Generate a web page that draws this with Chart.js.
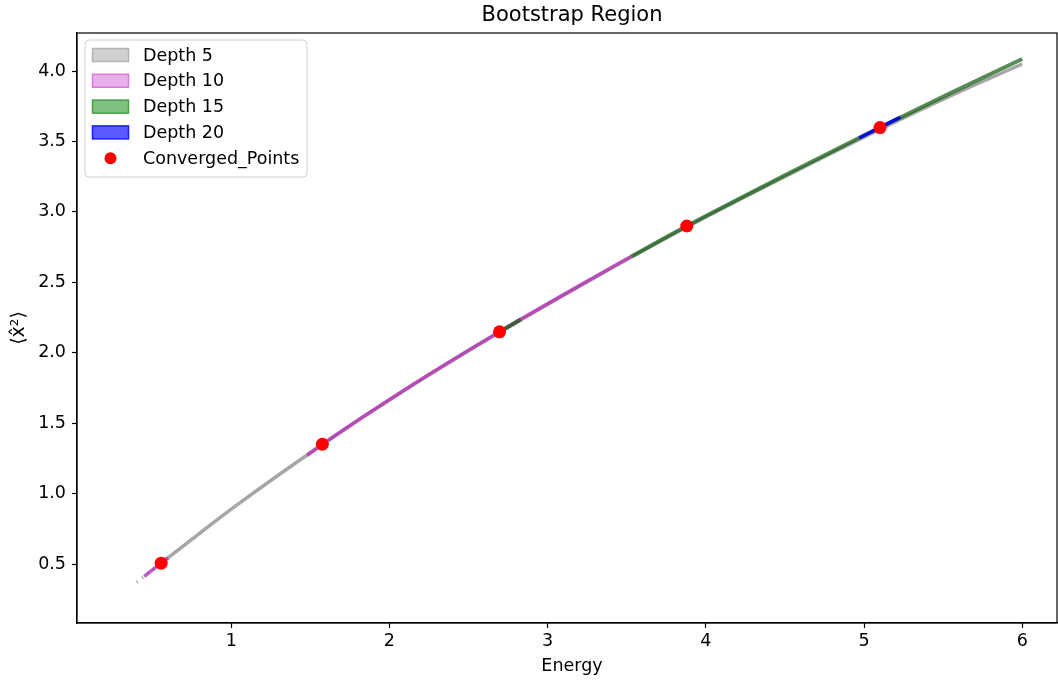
<!DOCTYPE html>
<html>
<head>
<meta charset="utf-8">
<script src="https://cdn.jsdelivr.net/npm/chart.js@4/dist/chart.umd.min.js"></script>
<style>
  html, body { margin: 0; padding: 0; background: #fff; overflow: hidden; }
  canvas { display: block; }
</style>
</head>
<body>
<canvas id="chart" width="1058" height="682"></canvas>
<script>
// values (energy, <x^2>); null breaks a segment
const depth5E = [0.40, 0.557, 0.80, 1.0, 1.576, 2.1, 2.696, 3.3, 3.88, 4.5, 5.10, 5.55, 6.0];
const depth5V = [0.370, 0.507, 0.718, 0.890, 1.349, 1.737, 2.146, 2.535, 2.893, 3.250, 3.585, 3.825, 4.050];

const depth10E = [0.45, 0.557, 0.60, null, 1.48, 1.576, 2.1, 2.696, 3.3, 3.53];
const depth10V = [0.413, 0.507, 0.545, null, 1.273, 1.351, 1.740, 2.149, 2.540, 2.685];

const depth15E = [2.70, 2.83, null, 3.53, 3.88, 4.5, 5.10, 5.55, 6.0];
const depth15V = [2.151, 2.237, null, 2.685, 2.900, 3.260, 3.599, 3.845, 4.085];

const depth20E = [4.97, 5.10, 5.23];
const depth20V = [3.525, 3.599, 3.672];

const convergedE = [0.557, 1.576, 2.696, 3.880, 5.101];
const convergedV = [0.507, 1.351, 2.149, 2.900, 3.599];

const xTicks = [1, 2, 3, 4, 5, 6];
const yTicks = [0.5, 1.0, 1.5, 2.0, 2.5, 3.0, 3.5, 4.0];

const FONT = 'DejaVu Sans';
const FS = 17.5;

function pts(xs, ys) {
  return xs.map((x, i) => (x === null ? { x: NaN, y: null } : { x: x, y: ys[i] }));
}

function band(label, xs, ys, line, fill, edge, width, order) {
  return {
    type: 'line',
    label: label,
    data: pts(xs, ys),
    borderColor: line,
    backgroundColor: fill,
    legendEdge: edge,
    borderWidth: width,
    pointRadius: 0,
    fill: false,
    spanGaps: false,
    cubicInterpolationMode: 'monotone',
    borderCapStyle: 'butt',
    order: order
  };
}

const datasets = [
  {
    type: 'scatter',
    label: 'Converged_Points',
    data: pts(convergedE, convergedV),
    backgroundColor: '#ff0000',
    borderColor: '#ff0000',
    pointRadius: 6.5,
    pointHoverRadius: 6.5,
    borderWidth: 0,
    order: 0
  },
  band('Depth 20', depth20E, depth20V, 'rgba(0,0,235,0.9)', 'rgba(90,90,255,1)', 'rgba(30,30,255,1)', 3.5, 1),
  band('Depth 15', depth15E, depth15V, 'rgba(20,95,20,0.72)', 'rgba(128,192,128,1)', 'rgba(70,160,70,1)', 4, 2),
  band('Depth 10', depth10E, depth10V, 'rgba(185,60,185,0.85)', 'rgba(232,176,232,1)', 'rgba(220,120,220,1)', 3.5, 3),
  band('Depth 5', depth5E, depth5V, 'rgba(150,150,150,0.85)', 'rgba(208,208,208,1)', 'rgba(180,180,180,1)', 3.5, 4)
];
// lower-left tail of depth 5 is broken into faint dots
datasets[4].segment = {
  borderDash: ctx => (ctx.p1.parsed.x <= 0.56 ? [2, 5] : undefined),
  borderColor: ctx => (ctx.p1.parsed.x <= 0.56 ? 'rgba(150,150,150,0.55)' : undefined)
};

const legendOrder = ['Depth 5', 'Depth 10', 'Depth 15', 'Depth 20', 'Converged_Points'];

const decorPlugin = {
  id: 'decor',
  afterDraw(chart) {
    const c = chart.ctx;
    const a = chart.chartArea;
    c.save();
    // frame on all four sides
    c.strokeStyle = '#000';
    c.lineWidth = 1.2;
    c.strokeRect(a.left, a.top, a.right - a.left, a.bottom - a.top);

    // title and axis labels
    c.fillStyle = '#000';
    c.textAlign = 'center';
    c.textBaseline = 'middle';
    c.font = '21px "' + FONT + '"';
    c.fillText('Bootstrap Region', 572, 16);
    c.font = FS + 'px "' + FONT + '"';
    c.fillText('Energy', 572, 666);
    c.save();
    c.translate(19, 328);
    c.rotate(-Math.PI / 2);
    c.font = '19px "' + FONT + '"';
    c.fillText('\u27E8x\u0302\u00B2\u27E9', 0, 0);
    c.restore();

    // legend in the upper left corner
    const lx = 85, ly = 40, lw = 222, lh = 137, r = 4;
    c.beginPath();
    c.moveTo(lx + r, ly);
    c.arcTo(lx + lw, ly, lx + lw, ly + lh, r);
    c.arcTo(lx + lw, ly + lh, lx, ly + lh, r);
    c.arcTo(lx, ly + lh, lx, ly, r);
    c.arcTo(lx, ly, lx + lw, ly, r);
    c.closePath();
    c.fillStyle = 'rgba(255,255,255,0.85)';
    c.fill();
    c.strokeStyle = '#d0d0d0';
    c.lineWidth = 1;
    c.stroke();

    c.font = FS + 'px "' + FONT + '"';
    c.textAlign = 'left';
    legendOrder.forEach((name, i) => {
      const ds = chart.data.datasets.find(d => d.label === name);
      const cy = 55 + i * 25.8;
      if (ds.type === 'scatter') {
        c.beginPath();
        c.arc(110.5, cy, 6, 0, Math.PI * 2);
        c.fillStyle = ds.backgroundColor;
        c.fill();
      } else {
        c.fillStyle = ds.backgroundColor;
        c.fillRect(92.5, cy - 6.5, 36, 13);
        c.strokeStyle = ds.legendEdge;
        c.lineWidth = 1.5;
        c.strokeRect(92.5, cy - 6.5, 36, 13);
      }
      c.fillStyle = '#000';
      c.fillText(name, 143, cy + 1);
    });
    c.restore();
  }
};

new Chart(document.getElementById('chart'), {
  data: { datasets: datasets },
  options: {
    responsive: false,
    animation: false,
    layout: { autoPadding: false, padding: { top: 33, right: 1, left: 0, bottom: 0 } },
    plugins: {
      legend: { display: false },
      title: { display: false },
      tooltip: { enabled: false }
    },
    scales: {
      x: {
        type: 'linear',
        min: 0.025,
        max: 6.22,
        afterFit: s => { s.height = 59; s.paddingLeft = 0; s.paddingRight = 0; },
        afterBuildTicks: s => { s.ticks = xTicks.map(v => ({ value: v })); },
        grid: { drawOnChartArea: false, drawTicks: true, tickLength: 5, tickColor: '#000', tickWidth: 1.2 },
        border: { display: true, color: '#000', width: 1.2 },
        ticks: { color: '#000', padding: 3, font: { family: FONT, size: FS }, callback: v => String(v) }
      },
      y: {
        type: 'linear',
        min: 0.082,
        max: 4.27,
        afterFit: s => { s.width = 77; s.paddingTop = 0; s.paddingBottom = 0; },
        afterBuildTicks: s => { s.ticks = yTicks.map(v => ({ value: v })); },
        grid: { drawOnChartArea: false, drawTicks: true, tickLength: 5, tickColor: '#000', tickWidth: 1.2 },
        border: { display: true, color: '#000', width: 1.2 },
        ticks: { color: '#000', padding: 6, font: { family: FONT, size: FS }, callback: v => Number(v).toFixed(1) }
      }
    }
  },
  plugins: [decorPlugin]
});
</script>
</body>
</html>
